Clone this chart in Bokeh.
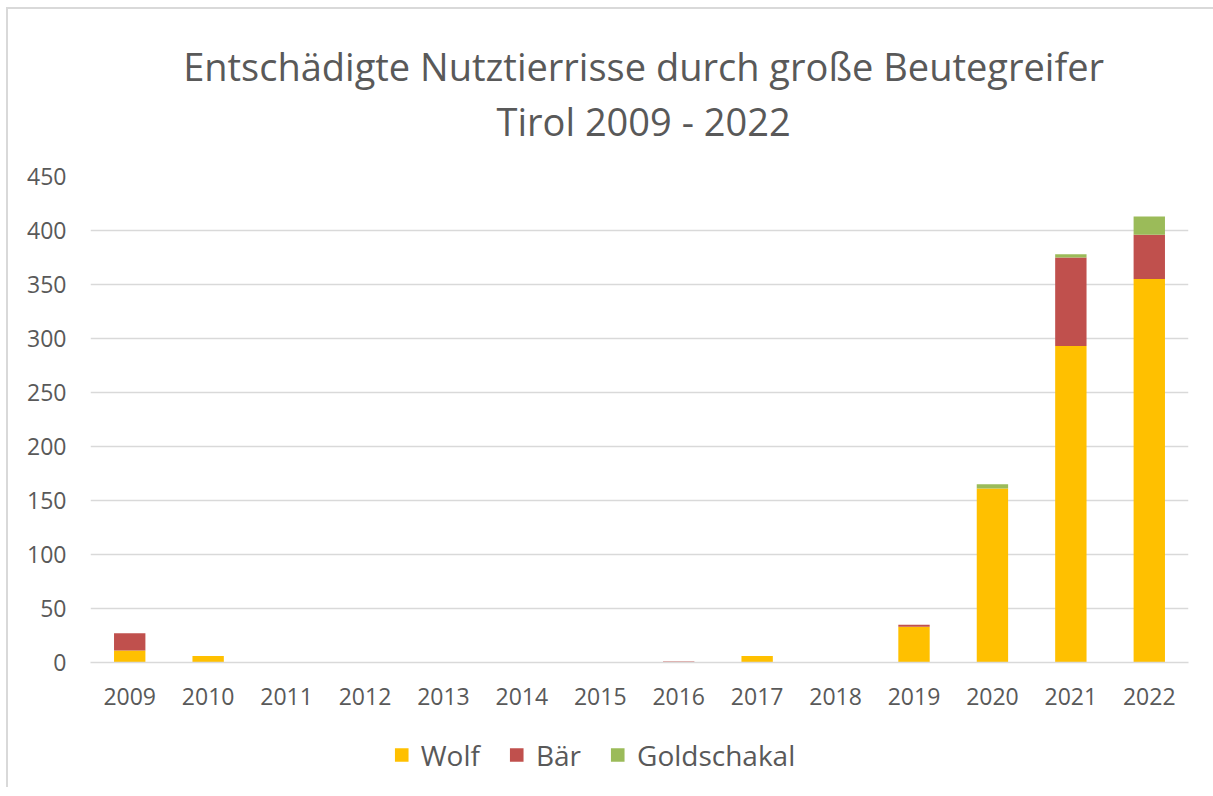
from bokeh.plotting import figure
from bokeh.layouts import column
from bokeh.models import ColumnDataSource, Label, Legend, LegendItem, SingleIntervalTicker, Range1d, FactorRange
from bokeh.embed import file_html
from bokeh.resources import INLINE

years = ["2009", "2010", "2011", "2012", "2013", "2014", "2015", "2016",
         "2017", "2018", "2019", "2020", "2021", "2022"]
wolf = [11, 6, 0, 0, 0, 0, 0, 0, 6, 0, 33, 161, 293, 355]
baer = [16, 0, 0, 0, 0, 0, 0, 1, 0, 0, 2, 0, 82, 41]
goldschakal = [0, 0, 0, 0, 0, 0, 0, 0, 0, 0, 0, 4, 3, 17]
series = ["Wolf", "Bär", "Goldschakal"]
colors = ["#FFC000", "#C0504D", "#9BBB59"]
title_lines = ["Entschädigte Nutztierrisse durch große Beutegreifer", "Tirol 2009 - 2022"]

FONT = "Open Sans"
TXT = "#595959"
W = 1205

# ---- header with the two title lines ----
ph = figure(x_range=Range1d(0, W), y_range=Range1d(0, 152), width=W, height=152,
            output_backend="svg", toolbar_location=None, x_axis_type=None, y_axis_type=None,
            min_border_left=0, min_border_right=0, min_border_top=0, min_border_bottom=0)
ph.title = None
ph.outline_line_color = None
ph.xgrid.grid_line_color = None
ph.ygrid.grid_line_color = None
for txt, yy in zip(title_lines, [96, 41]):
    ph.add_layout(Label(x=607, y=yy, text=txt, text_align="center", text_baseline="middle",
                        text_font=FONT, text_font_size="38px", text_color=TXT))

# ---- main chart ----
src = ColumnDataSource(dict(years=years, Wolf=wolf, Bär=baer, Goldschakal=goldschakal))

p = figure(x_range=FactorRange(*years, range_padding=0), y_range=Range1d(0, 450),
           frame_width=1098, frame_height=486, output_backend="svg", toolbar_location=None,
           min_border_left=82, min_border_right=25, min_border_top=15, min_border_bottom=60)
p.title = None

rs = p.vbar_stack(series, x="years", width=0.4, color=colors, source=src, line_color=None)

p.outline_line_color = None
p.xgrid.grid_line_color = None
p.ygrid.grid_line_color = "#d9d9d9"
p.ygrid.grid_line_width = 1.5
p.yaxis.ticker = SingleIntervalTicker(interval=50)
p.yaxis.axis_line_color = None
p.yaxis.major_tick_line_color = None
p.yaxis.minor_tick_line_color = None
p.yaxis.major_label_text_font = FONT
p.yaxis.major_label_text_font_size = "23px"
p.yaxis.major_label_text_color = TXT
p.yaxis.major_label_standoff = 18

p.xaxis.axis_line_color = "#d9d9d9"
p.xaxis.axis_line_width = 1.5
p.xaxis.major_tick_line_color = None
p.xaxis.minor_tick_line_color = None
p.xaxis.major_label_text_font = FONT
p.xaxis.major_label_text_font_size = "23px"
p.xaxis.major_label_text_color = TXT
p.xaxis.major_label_standoff = 19

# ---- legend strip ----
lsrc = ColumnDataSource(dict(x=[-5.0], Wolf=[0], Bär=[0], Goldschakal=[0]))
pl = figure(x_range=Range1d(0, 1), y_range=Range1d(0, 1), width=1115, height=65,
            output_backend="svg", toolbar_location=None, x_axis_type=None, y_axis_type=None,
            min_border_left=0, min_border_right=0, min_border_top=0, min_border_bottom=0)
pl.title = None
pl.outline_line_color = None
pl.xgrid.grid_line_color = None
pl.ygrid.grid_line_color = None
lrs = pl.vbar_stack(series, x="x", width=0.4, color=colors, source=lsrc, line_color=None)
legend = Legend(items=[LegendItem(label=s, renderers=[r]) for s, r in zip(series, lrs)],
                orientation="horizontal", location="center",
                label_text_font=FONT, label_text_font_size="28px", label_text_color=TXT,
                glyph_width=17, glyph_height=17, label_standoff=11, spacing=28,
                border_line_color=None, background_fill_alpha=0, padding=0, margin=0)
pl.add_layout(legend, "center")

layout = column(ph, p, pl, spacing=0)
layout.styles = {"margin-left": "6px", "margin-top": "7px",
                 "border-left": "2px solid #d9d9d9", "border-top": "2px solid #d9d9d9"}

open("out.html", "w").write(file_html(layout, INLINE))
